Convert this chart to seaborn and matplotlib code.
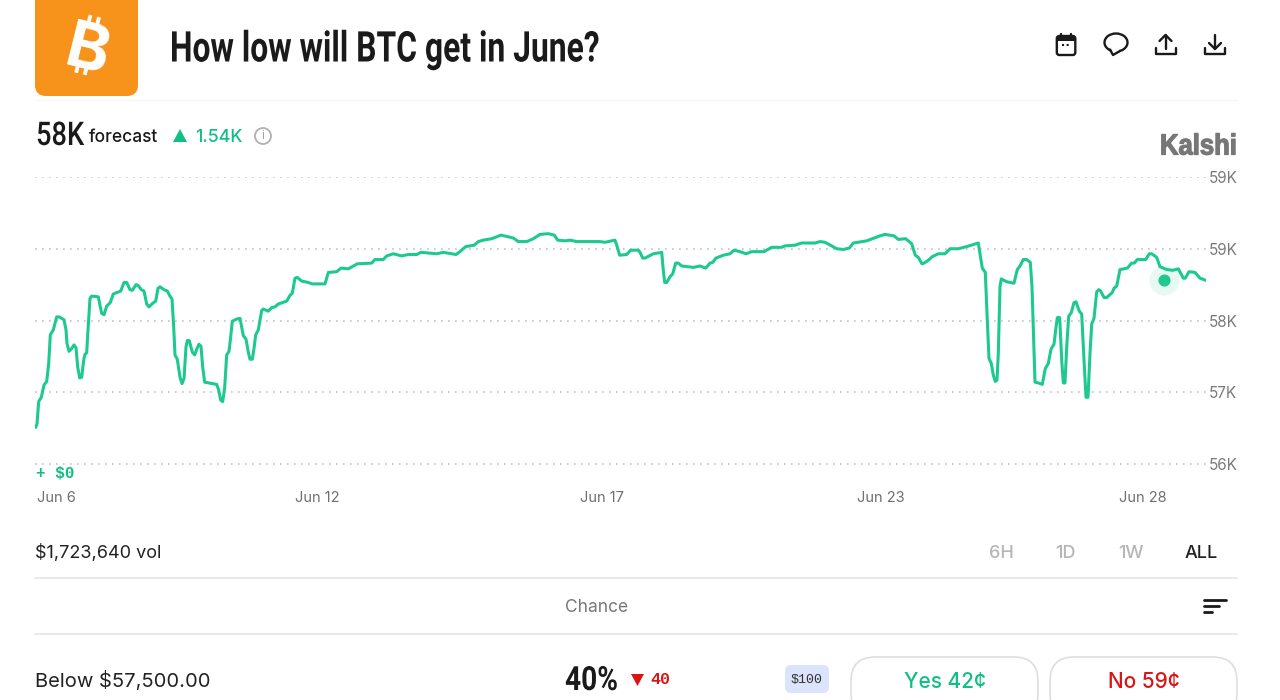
import matplotlib
matplotlib.use('Agg')
import matplotlib.pyplot as plt
import matplotlib.patheffects as pe
from matplotlib.patches import FancyBboxPatch, Circle, Ellipse, Polygon, Rectangle
from matplotlib.transforms import Affine2D
import seaborn as sns
import pandas as pd

# position along the chart's (uneven) time axis
elapsed = [35.7, 37, 38.7, 41.3, 44, 46.7, 48.7, 50.3, 53.3, 56.7, 59.3, 64, 66, 67, 69, 71.7, 74, 76, 77.7, 79.7,
           81.7, 83.7, 85, 86.7, 88, 90, 91.7, 98.3, 100, 101.7, 104, 106.7, 110.3, 113.3, 120.7, 124, 126.7, 130,
           132.3, 136, 138, 141.3, 144, 146.7, 149, 152.7, 155.7, 158, 160, 164, 167.3, 170, 172, 173.7, 175, 177.3,
           180, 182, 184, 186, 187.3, 189.3, 192.3, 194.7, 196.7, 199, 201, 202.7, 204.7, 216.7, 218.7, 220.7, 222.7,
           224.7, 226.7, 229, 230.7, 232.3, 236.7, 240, 241.7, 243.3, 246, 248.3, 250, 252.3, 254, 255.7, 258.3,
           261.7, 263.3, 268.3, 271.7, 275, 278.3, 286.7, 290, 292.3, 295, 297.3, 301.7, 308.3, 312.3, 320,
           325, 328.3, 336.7, 341, 348.3, 357.3, 371.7, 375, 383.3, 386.7, 393.3, 401.7, 408.3, 416.7, 421, 436.7,
           443.3, 456, 460, 465.7, 474.3, 478.3, 483.3, 491.7, 501, 513.3, 518.3, 526.7, 533.3, 540, 548.3, 554.3,
           557.7, 565, 570, 576.7, 600, 605, 615, 616.7, 619.7, 626.7, 630.7, 638.3,
           640, 642.7, 645, 653.3, 661.7, 663.3, 664.7, 666.7, 670, 672.7, 675.7, 678.3, 681.7, 693.3, 700, 705.7,
           710, 712.7, 716, 723.3, 730, 734, 740, 746, 751.7, 764, 771.7, 781.7, 785, 795, 801.7, 815, 820, 825,
           831.7, 836.7, 843.3, 849.3, 853.3, 866.7, 880, 885, 894, 898.3, 905.7, 911.7, 915.3, 918.3, 922, 924,
           928.3, 932.3, 938.3, 945, 950, 958.3, 966.7, 978.3, 980, 982.3, 985.3, 987.3, 989, 991.3, 993.3, 995.3,
           997, 998.3, 1000, 1001.3, 1006.7, 1014, 1017.3, 1020, 1023.3, 1026.7, 1030.3, 1032, 1035, 1038.3, 1042.3,
           1045.3, 1048.3, 1051, 1054, 1055.7, 1057.3, 1059.7, 1061.7, 1063.3, 1065, 1066.7, 1068.7, 1071.3, 1074,
           1076, 1079.3, 1081.7, 1084, 1086, 1088, 1090, 1091.7, 1094, 1096.7, 1098.7, 1100.7, 1104, 1106.7, 1112.3,
           1114, 1116.7, 1120, 1127.3, 1131.7, 1134.3, 1137.3, 1145.7, 1149.3, 1151.7, 1156.7, 1160, 1166.7, 1172.7,
           1178.3, 1183.3, 1185.3, 1189, 1195, 1200, 1205.7]

# forecast in thousands of dollars
forecast = [56.51, 56.56, 56.87, 56.93, 57.10, 57.15, 57.40, 57.80, 57.87, 58.05, 58.05, 58.01, 57.87, 57.68, 57.57,
            57.61, 57.66, 57.62, 57.35, 57.20, 57.21, 57.45, 57.53, 57.55, 57.87, 58.31, 58.34, 58.33, 58.21, 58.10,
            58.08, 58.20, 58.25, 58.37, 58.41, 58.53, 58.53, 58.43, 58.42, 58.50, 58.49, 58.43, 58.41, 58.23, 58.19,
            58.24, 58.27, 58.45, 58.47, 58.43, 58.41, 58.34, 58.30, 57.91, 57.52, 57.46, 57.21, 57.12, 57.19, 57.63,
            57.72, 57.72, 57.56, 57.52, 57.60, 57.67, 57.64, 57.35, 57.14, 57.11, 57.03, 56.89, 56.87, 57.07, 57.52,
            57.57, 57.77, 57.99, 58.02, 58.03, 57.91, 57.79, 57.74, 57.56, 57.46, 57.46, 57.61, 57.80, 57.87, 58.14,
            58.16, 58.13, 58.18, 58.19, 58.23, 58.27, 58.35, 58.38, 58.59, 58.60, 58.55, 58.53, 58.51, 58.51,
            58.51, 58.67, 58.68, 58.73, 58.72, 58.79, 58.80, 58.85, 58.85, 58.90, 58.93, 58.90, 58.92, 58.92, 58.95,
            58.93, 58.95, 58.92, 58.96, 59.03, 59.05, 59.10, 59.12, 59.14, 59.19, 59.15, 59.10, 59.10, 59.14, 59.20,
            59.21, 59.19, 59.12, 59.11, 59.12, 59.10, 59.10, 59.09, 59.12, 59.05, 58.91, 58.92, 58.98, 58.98,
            58.95, 58.87, 58.87, 58.93, 58.95, 58.70, 58.53, 58.53, 58.61, 58.65, 58.80, 58.80, 58.76, 58.74, 58.76,
            58.73, 58.80, 58.81, 58.87, 58.91, 58.93, 58.98, 58.96, 58.93, 58.96, 58.96, 59.02, 59.02, 59.04, 59.05,
            59.08, 59.08, 59.10, 59.09, 59.04, 59.00, 58.99, 59.01, 59.08, 59.11, 59.18, 59.20, 59.18, 59.13, 59.14,
            59.07, 58.91, 58.88, 58.79, 58.80, 58.84, 58.89, 58.93, 58.93, 59.00, 59.00, 59.03, 59.08, 58.93, 58.73,
            58.67, 58.00, 57.47, 57.40, 57.24, 57.15, 57.17, 57.54, 58.47, 58.58, 58.54, 58.52, 58.71, 58.76, 58.85,
            58.85, 58.81, 58.47, 57.14, 57.13, 57.11, 57.33, 57.40, 57.60, 57.67, 57.87, 58.04, 58.04, 57.45, 57.13,
            57.13, 57.63, 58.06, 58.11, 58.25, 58.26, 58.13, 58.09, 57.45, 56.93, 56.93, 57.54, 57.95, 58.03, 58.40,
            58.43, 58.41, 58.32, 58.32, 58.39, 58.45, 58.48, 58.71, 58.73, 58.80, 58.80, 58.85, 58.85, 58.93, 58.93,
            58.88, 58.75, 58.71, 58.70, 58.72, 58.59, 58.59, 58.68, 58.67, 58.59, 58.56]

dot_elapsed = 1164
dot_value = 58.57
y_ticks = [56, 57, 58, 59, 60]
y_labels = ['56K', '57K', '58K', '59K', '59K']
x_ticks = [56, 317, 602, 881, 1143]
x_labels = ['Jun 6', 'Jun 12', 'Jun 17', 'Jun 23', 'Jun 28']
range_labels = ['6H', '1D', '1W', 'ALL']
range_colors = ['#b5b5b5', '#b5b5b5', '#b5b5b5', '#222222']

GREEN = '#1ec98f'
TEXT_GREEN = '#10bf83'
RED = '#d91414'
MONO = ['Liberation Mono', 'DejaVu Sans Mono']


class Squeeze(pe.AbstractPathEffect):
    # no condensed font is installed, so narrow the glyphs of a real text
    def __init__(self, sx, stroke=0):
        super().__init__()
        self.sx = sx
        self.stroke = stroke

    def draw_path(self, renderer, gc, tpath, affine, rgbFace=None):
        gc0 = renderer.new_gc()
        gc0.copy_properties(gc)
        if self.stroke:
            gc0.set_linewidth(self.stroke)
            gc0.set_foreground(rgbFace)
        renderer.draw_path(gc0, tpath, Affine2D().scale(self.sx, 1) + affine, rgbFace)
        gc0.restore()


def fit_width(fig, text, width, stroke=0):
    full = text.get_window_extent(fig.canvas.get_renderer()).width
    text.set_path_effects([Squeeze(width / full, stroke)])


def add_icons(page):
    black = '#1a1a1a'
    # calendar
    page.add_patch(FancyBboxPatch((1056.8, 36), 18.5, 19, boxstyle='round,pad=0,rounding_size=2.5', fill=False, ec=black, lw=1.7))
    page.add_patch(Rectangle((1057, 36), 18, 4.5, fc=black, ec='none'))
    page.plot([1061, 1061], [33.5, 37], color=black, lw=1.7)
    page.plot([1071, 1071], [33.5, 37], color=black, lw=1.7)
    page.plot([1061.5, 1070.5], [44.5, 44.5], color=black, lw=1.5, ls=(0, (1, 1.2)))
    # comment bubble
    page.add_patch(Ellipse((1116, 42.5), 23, 18, fill=False, ec=black, lw=1.7))
    page.add_patch(Polygon([(1111, 49), (1113, 54), (1120, 50)], fc='white', ec='none', zorder=3))
    page.plot([1110, 1113, 1120], [49.5, 55, 51], color=black, lw=1.7, zorder=4)
    # share and download
    for x, up in ((1165.5, True), (1215, False)):
        page.plot([x - 10, x - 10, x + 10, x + 10], [48, 54, 54, 48], color=black, lw=1.7)
        page.plot([x, x], [35, 49], color=black, lw=1.7)
        if up:
            page.plot([x - 6, x, x + 6], [41, 35, 41], color=black, lw=1.7)
        else:
            page.plot([x - 6, x, x + 6], [43, 49, 43], color=black, lw=1.7)
    # sort
    page.plot([1204, 1226], [600, 600], color=black, lw=2)
    page.plot([1204, 1219], [606, 606], color=black, lw=2)
    page.plot([1204, 1212], [612, 612], color=black, lw=2)


def draw_page(fig, page):
    page.set_xlim(0, 1280)
    page.set_ylim(700, 0)
    page.axis('off')

    # logo
    page.add_patch(FancyBboxPatch((35, -20), 103, 116, boxstyle='round,pad=0,rounding_size=11', fc='#f7931a', ec='none'))
    page.text(87, 53, '\u20bf', color='white', fontsize=47, fontweight='bold', family=['Inter', 'Noto Sans', 'Open Sans', 'DejaVu Sans'],
              rotation=-14, ha='center', va='center')

    title = page.text(170, 50, 'How low will BTC get in June?', fontsize=30.5, fontweight='bold', family='Roboto', color='#1a1a1a', va='center')
    fit_width(fig, title, 430)
    page.plot([35, 1237], [100, 100], color='#f6f6f6', lw=1)

    big = page.text(36, 136, '58K', fontsize=23.5, family='Roboto', fontweight='medium', color='#1a1a1a', va='center')
    fit_width(fig, big, 48)
    page.text(89, 137.5, 'forecast', fontsize=12.5, fontweight='medium', color='#1a1a1a', va='center')
    page.add_patch(Polygon([(173, 142), (187, 142), (180, 129)], fc=TEXT_GREEN, ec='none'))
    page.text(195, 137.5, '1.54K', fontsize=12.8, fontweight='medium', color=TEXT_GREEN, va='center')
    page.add_patch(Circle((263, 136), 8, fill=False, ec='#b0b0b0', lw=1.3))
    page.text(263, 136, 'i', fontsize=8.5, color='#a0a0a0', ha='center', va='center')
    logo = page.text(1160, 146.5, 'Kalshi', fontsize=21, fontweight='bold', family='Liberation Sans', color='#777777', va='center')
    fit_width(fig, logo, 77, stroke=0.9)

    page.text(36, 474, '+ $0', fontsize=11.5, family=MONO, fontweight='bold', color=TEXT_GREEN, va='center')

    page.text(35, 553, '$1,723,640 vol', fontsize=13, color='#222222', va='center')
    for x, label, color in zip([1001, 1065, 1131, 1201], range_labels, range_colors):
        page.text(x, 553.5, label, fontsize=13, fontweight='medium', color=color, ha='center', va='center')
    page.plot([35, 1237], [577.5, 577.5], color='#e6e6e6', lw=1.3)
    page.plot([35, 1237], [634, 634], color='#e6e6e6', lw=1.3)
    page.text(597, 608, 'Chance', fontsize=12.5, color='#777777', ha='center', va='center')

    page.text(35, 681, 'Below $57,500.00', fontsize=14.5, color='#222222', va='center')
    chance = page.text(565, 681, '40%', fontsize=24, family='Roboto', fontweight='bold', color='#1a1a1a', va='center')
    fit_width(fig, chance, 53)
    page.add_patch(Polygon([(631, 674), (644, 674), (637.5, 686)], fc=RED, ec='none'))
    page.text(650, 680, '40', fontsize=12, family=MONO, fontweight='bold', color=RED, va='center')
    page.add_patch(FancyBboxPatch((785, 665), 44, 28, boxstyle='round,pad=0,rounding_size=6', fc='#dce4fb', ec='none'))
    page.text(807, 680, '$100', fontsize=9.5, family=MONO, color='#333333', ha='center', va='center')
    for x, label, color in ((851, 'Yes 42\u00a2', TEXT_GREEN), (1050, 'No 59\u00a2', RED)):
        page.add_patch(FancyBboxPatch((x, 657), 187, 60, boxstyle='round,pad=0,rounding_size=24', fc='white', ec='#dedede', lw=1.2))
        page.text(x + 94, 681.5, label, fontsize=15, fontweight='medium', color=color, ha='center', va='center')

    add_icons(page)


def main():
    sns.set_theme(style='white')
    plt.rcParams['font.family'] = ['Inter', 'DejaVu Sans']

    fig = plt.figure(figsize=(12.8, 7), dpi=100, facecolor='white')

    page = fig.add_axes([0, 0, 1, 1])
    draw_page(fig, page)

    # chart area from 35 to 1206 across, 60 at 177 and 56 at 464 down, with a little room below 56
    ax = fig.add_axes([35 / 1280, (700 - 467) / 700, 1171 / 1280, 290 / 700])
    ax.patch.set_alpha(0)
    df = pd.DataFrame({'elapsed': elapsed, 'forecast': forecast})
    ax.set_yticks(y_ticks, y_labels)
    ax.set_xticks(x_ticks, x_labels)
    ax.yaxis.grid(True, color='#c4c4c4', lw=1.2, ls=(0, (1, 3.2)))
    ax.xaxis.grid(False)
    sns.lineplot(data=df, x='elapsed', y='forecast', ax=ax, color=GREEN, lw=2.2, sort=False, errorbar=None,
                 solid_joinstyle='round', solid_capstyle='round')
    ax.scatter([dot_elapsed], [dot_value], s=466, color=GREEN, alpha=0.1, linewidths=0)
    ax.scatter([dot_elapsed], [dot_value], s=76, color=GREEN, linewidths=0)
    ax.set_xlim(35, 1206)
    ax.set_ylim(56 - 3 / 71.75, 60)
    ax.set_xlabel('')
    ax.set_ylabel('')
    ax.yaxis.tick_right()
    ax.tick_params(axis='y', length=0, pad=2, labelsize=11, labelcolor='#7a7a7a')
    ax.tick_params(axis='x', length=0, pad=17, labelsize=10.5, labelcolor='#6f6f6f')
    sns.despine(ax=ax, left=True, bottom=True, top=True, right=True)

    fig.savefig('out.png', dpi=100)


if __name__ == '__main__':
    main()
